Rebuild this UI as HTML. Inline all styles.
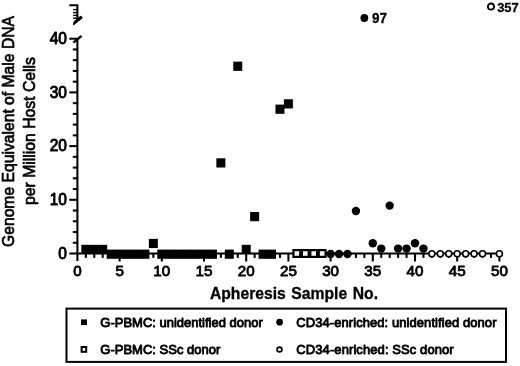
<!DOCTYPE html><html><head><meta charset="utf-8"><style>html,body{margin:0;padding:0;background:#fff}svg{display:block}text{font-family:"Liberation Sans",Arial,sans-serif;fill:#000}</style></head><body>
<svg width="520" height="366" viewBox="0 0 520 366">
<rect width="520" height="366" fill="#fff"/>
<g stroke="#000" stroke-width="2.05" fill="none">
<path d="M77.4 39 V261"/>
<path d="M69.3 253.5 H499.4"/>
<path d="M72.80 242.76 H77.4"/>
<path d="M72.80 232.02 H77.4"/>
<path d="M72.80 221.28 H77.4"/>
<path d="M72.80 210.54 H77.4"/>
<path d="M69.30 199.80 H77.4"/>
<path d="M72.80 189.06 H77.4"/>
<path d="M72.80 178.32 H77.4"/>
<path d="M72.80 167.58 H77.4"/>
<path d="M72.80 156.84 H77.4"/>
<path d="M69.30 146.10 H77.4"/>
<path d="M72.80 135.36 H77.4"/>
<path d="M72.80 124.62 H77.4"/>
<path d="M72.80 113.88 H77.4"/>
<path d="M72.80 103.14 H77.4"/>
<path d="M69.30 92.40 H77.4"/>
<path d="M72.80 81.66 H77.4"/>
<path d="M72.80 70.92 H77.4"/>
<path d="M72.80 60.18 H77.4"/>
<path d="M72.80 49.44 H77.4"/>
<path d="M69.30 38.70 H77.4"/>
<path d="M85.84 253.5 v4.4"/>
<path d="M94.28 253.5 v4.4"/>
<path d="M102.72 253.5 v4.4"/>
<path d="M111.16 253.5 v4.4"/>
<path d="M119.60 253.5 v8.0"/>
<path d="M128.04 253.5 v4.4"/>
<path d="M136.48 253.5 v4.4"/>
<path d="M144.92 253.5 v4.4"/>
<path d="M153.36 253.5 v4.4"/>
<path d="M161.80 253.5 v8.0"/>
<path d="M170.24 253.5 v4.4"/>
<path d="M178.68 253.5 v4.4"/>
<path d="M187.12 253.5 v4.4"/>
<path d="M195.56 253.5 v4.4"/>
<path d="M204.00 253.5 v8.0"/>
<path d="M212.44 253.5 v4.4"/>
<path d="M220.88 253.5 v4.4"/>
<path d="M229.32 253.5 v4.4"/>
<path d="M237.76 253.5 v4.4"/>
<path d="M246.20 253.5 v8.0"/>
<path d="M254.64 253.5 v4.4"/>
<path d="M263.08 253.5 v4.4"/>
<path d="M271.52 253.5 v4.4"/>
<path d="M279.96 253.5 v4.4"/>
<path d="M288.40 253.5 v8.0"/>
<path d="M296.84 253.5 v4.4"/>
<path d="M305.28 253.5 v4.4"/>
<path d="M313.72 253.5 v4.4"/>
<path d="M322.16 253.5 v4.4"/>
<path d="M330.60 253.5 v8.0"/>
<path d="M339.04 253.5 v4.4"/>
<path d="M347.48 253.5 v4.4"/>
<path d="M355.92 253.5 v4.4"/>
<path d="M364.36 253.5 v4.4"/>
<path d="M372.80 253.5 v8.0"/>
<path d="M381.24 253.5 v4.4"/>
<path d="M389.68 253.5 v4.4"/>
<path d="M398.12 253.5 v4.4"/>
<path d="M406.56 253.5 v4.4"/>
<path d="M415.00 253.5 v8.0"/>
<path d="M423.44 253.5 v4.4"/>
<path d="M431.88 253.5 v4.4"/>
<path d="M440.32 253.5 v4.4"/>
<path d="M448.76 253.5 v4.4"/>
<path d="M457.20 253.5 v8.0"/>
<path d="M465.64 253.5 v4.4"/>
<path d="M474.08 253.5 v4.4"/>
<path d="M482.52 253.5 v4.4"/>
<path d="M490.96 253.5 v4.4"/>
<path d="M499.40 253.5 v8.0"/>
<path d="M69.3 5.2 H77.4 V20"/>
<path d="M73.10000000000001 9.6 H77.4" stroke-width="1.4"/>
<path d="M73.10000000000001 12.6 H77.4" stroke-width="1.4"/>
<path d="M73.10000000000001 15.4 H77.4" stroke-width="1.4"/>
<path d="M73.10000000000001 18.2 H77.4" stroke-width="1.4"/>
</g>
<path d="M73.6 24.4 L74.6 21.6 L80.6 16.6 L81.8 17.8 Z" fill="#000" stroke="#000" stroke-width="1.5" stroke-linejoin="round"/>
<path d="M73.4 42.6 L81.6 35.8" stroke="#000" stroke-width="2.4" fill="none"/>
<g fill="#000">
<rect x="81.34" y="244.83" width="9" height="9.2"/>
<rect x="89.78" y="244.83" width="9" height="9.2"/>
<rect x="98.22" y="244.83" width="9" height="9.2"/>
<rect x="106.66" y="249.60" width="9" height="9.2"/>
<rect x="115.10" y="249.60" width="9" height="9.2"/>
<rect x="123.54" y="249.60" width="9" height="9.2"/>
<rect x="131.98" y="249.60" width="9" height="9.2"/>
<rect x="140.42" y="249.60" width="9" height="9.2"/>
<rect x="148.86" y="238.86" width="9" height="9.2"/>
<rect x="157.30" y="249.60" width="9" height="9.2"/>
<rect x="165.74" y="249.60" width="9" height="9.2"/>
<rect x="174.18" y="249.60" width="9" height="9.2"/>
<rect x="182.62" y="249.60" width="9" height="9.2"/>
<rect x="191.06" y="249.60" width="9" height="9.2"/>
<rect x="199.50" y="249.60" width="9" height="9.2"/>
<rect x="207.94" y="249.60" width="9" height="9.2"/>
<rect x="216.38" y="158.31" width="9" height="9.2"/>
<rect x="224.82" y="249.60" width="9" height="9.2"/>
<rect x="233.26" y="61.65" width="9" height="9.2"/>
<rect x="241.70" y="244.83" width="9" height="9.2"/>
<rect x="250.14" y="212.01" width="9" height="9.2"/>
<rect x="258.58" y="249.60" width="9" height="9.2"/>
<rect x="267.02" y="249.60" width="9" height="9.2"/>
<rect x="275.46" y="104.61" width="9" height="9.2"/>
<rect x="283.90" y="99.24" width="9" height="9.2"/>
<circle cx="330.60" cy="253.95" r="4.2"/>
<circle cx="339.04" cy="253.95" r="4.2"/>
<circle cx="347.48" cy="253.95" r="4.2"/>
<circle cx="355.92" cy="210.99" r="4.2"/>
<circle cx="372.80" cy="243.21" r="4.2"/>
<circle cx="381.24" cy="248.58" r="4.2"/>
<circle cx="389.68" cy="205.62" r="4.2"/>
<circle cx="398.12" cy="248.58" r="4.2"/>
<circle cx="406.56" cy="248.58" r="4.2"/>
<circle cx="415.00" cy="243.21" r="4.2"/>
<circle cx="423.44" cy="248.58" r="4.2"/>
<circle cx="364.36" cy="18" r="3.9"/>
</g>
<g fill="#fff" stroke="#000" stroke-width="1.6">
<rect x="293.44" y="250.10" width="6.8" height="6.8" stroke-width="2.2" fill="#f4f4f4"/>
<rect x="301.88" y="250.10" width="6.8" height="6.8" stroke-width="2.2" fill="#f4f4f4"/>
<rect x="310.32" y="250.10" width="6.8" height="6.8" stroke-width="2.2" fill="#f4f4f4"/>
<rect x="318.76" y="250.10" width="6.8" height="6.8" stroke-width="2.2" fill="#f4f4f4"/>
<circle cx="431.88" cy="253.70" r="3"/>
<circle cx="440.32" cy="253.70" r="3"/>
<circle cx="448.76" cy="253.70" r="3"/>
<circle cx="457.20" cy="253.70" r="3"/>
<circle cx="465.64" cy="253.70" r="3"/>
<circle cx="474.08" cy="253.70" r="3"/>
<circle cx="482.52" cy="253.70" r="3"/>
<circle cx="499.40" cy="253.70" r="3"/>
<circle cx="490.96" cy="6.6" r="3.1" stroke-width="1.8"/>
</g>
<g font-size="15.2" stroke="#000" stroke-width="0.85" stroke-linejoin="round">
<text transform="translate(77.40,275.5) scale(1,0.99)" text-anchor="middle">0</text>
<text transform="translate(119.60,275.5) scale(1,0.99)" text-anchor="middle">5</text>
<text transform="translate(161.80,275.5) scale(1,0.99)" text-anchor="middle">10</text>
<text transform="translate(204.00,275.5) scale(1,0.99)" text-anchor="middle">15</text>
<text transform="translate(246.20,275.5) scale(1,0.99)" text-anchor="middle">20</text>
<text transform="translate(288.40,275.5) scale(1,0.99)" text-anchor="middle">25</text>
<text transform="translate(330.60,275.5) scale(1,0.99)" text-anchor="middle">30</text>
<text transform="translate(372.80,275.5) scale(1,0.99)" text-anchor="middle">35</text>
<text transform="translate(415.00,275.5) scale(1,0.99)" text-anchor="middle">40</text>
<text transform="translate(457.20,275.5) scale(1,0.99)" text-anchor="middle">45</text>
<text transform="translate(499.40,275.5) scale(1,0.99)" text-anchor="middle">50</text>
<text transform="translate(66.9,258.60) scale(1,1.07)" font-size="15.5" text-anchor="end">0</text>
<text transform="translate(66.9,204.90) scale(1,1.07)" font-size="15.5" text-anchor="end">10</text>
<text transform="translate(66.9,151.20) scale(1,1.07)" font-size="15.5" text-anchor="end">20</text>
<text transform="translate(66.9,97.50) scale(1,1.07)" font-size="15.5" text-anchor="end">30</text>
<text transform="translate(66.9,43.80) scale(1,1.07)" font-size="15.5" text-anchor="end">40</text>
</g>
<g font-weight="bold">
<text transform="translate(372,22.8) scale(1,1.04)" font-size="13.5" stroke="#000" stroke-width="0.3">97</text>
<text transform="translate(497.2,11.6) scale(1,1.05)" font-size="12.9" stroke="#000" stroke-width="0.3">357</text>
<text transform="translate(209.9,299) scale(1,1.1)" font-size="15.7" word-spacing="1.2" stroke="#000" stroke-width="0.3">Apheresis Sample No.</text>
</g>
<g font-size="15.5" stroke="#000" stroke-width="0.7" stroke-linejoin="round">
<text transform="translate(13.9,247) rotate(-90)" font-size="16.8" textLength="231" lengthAdjust="spacingAndGlyphs">Genome Equivalent of Male DNA</text>
<text transform="translate(34.6,205) rotate(-90)" font-size="16.8" textLength="148" lengthAdjust="spacingAndGlyphs">per Million Host Cells</text>
</g>
<rect x="66.5" y="308.6" width="439.5" height="53.3" fill="none" stroke="#000" stroke-width="2"/>
<rect x="81" y="319.4" width="6" height="5.7" fill="#000"/>
<rect x="81.6" y="347" width="4.6" height="4.8" fill="#fff" stroke="#000" stroke-width="2"/>
<circle cx="279.6" cy="322.2" r="3.35" fill="#000"/>
<circle cx="279.5" cy="349.5" r="2.45" fill="#fff" stroke="#000" stroke-width="1.7"/>
<g font-size="13" stroke="#000" stroke-width="0.85" stroke-linejoin="round">
<text transform="translate(100.3,326.7) scale(1,1.03)" textLength="162.5">G-PBMC: unidentified donor</text>
<text transform="translate(100.3,354.4) scale(1,1.03)" textLength="120">G-PBMC: SSc donor</text>
<text transform="translate(296.3,326.7) scale(1,1.03)" textLength="200.2">CD34-enriched: unidentified donor</text>
<text transform="translate(296.3,354.4) scale(1,1.03)" textLength="157.4">CD34-enriched: SSc donor</text>
</g>
</svg></body></html>
